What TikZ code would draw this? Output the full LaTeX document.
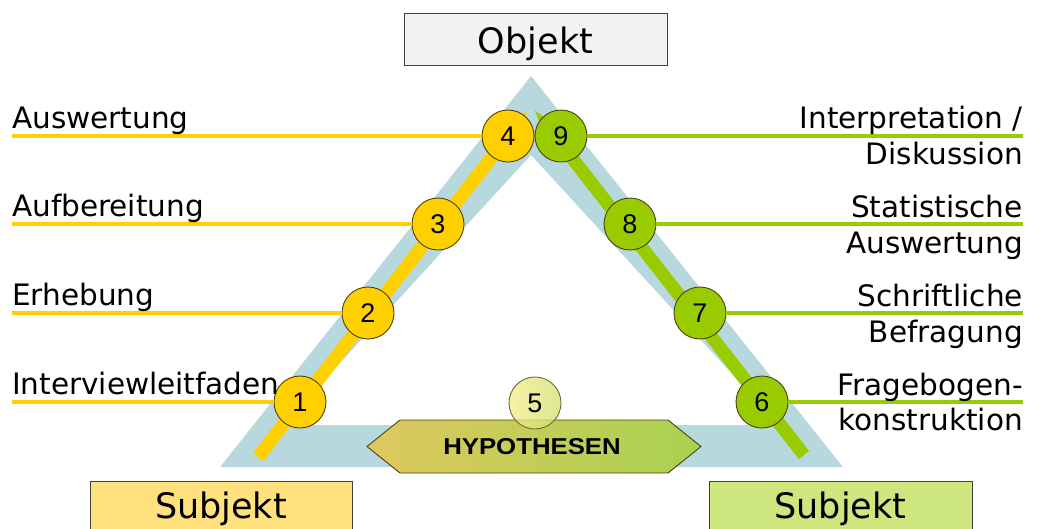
\documentclass[tikz,border=0pt]{standalone}
\usepackage{fontspec}
\setmainfont{DejaVu Sans}
\newfontfamily\numfont{Liberation Sans}
\usetikzlibrary{arrows.meta}
\definecolor{band}{RGB}{183,217,221}
\definecolor{ylw}{RGB}{255,208,0}
\definecolor{grn}{RGB}{153,204,0}
\definecolor{edge}{RGB}{75,65,20}
\definecolor{subjY}{RGB}{255,225,125}
\definecolor{subjG}{RGB}{205,230,125}
\definecolor{objG}{RGB}{242,242,242}
\definecolor{hypL}{RGB}{222,200,95}
\definecolor{hypR}{RGB}{168,210,80}
\definecolor{fiveL}{RGB}{246,234,135}
\definecolor{fiveR}{RGB}{205,225,110}
\begin{document}
\begin{tikzpicture}[x=1pt,y=-1pt,
  lbl/.style={inner sep=0pt, font=\fontsize{29.5}{35}\selectfont},
  big/.style={inner sep=0pt, font=\fontsize{35}{42}\selectfont},
  num/.style={circle, draw=edge, line width=0.9pt, minimum size=52pt, inner sep=0pt, font=\numfont\fontsize{27}{30}\selectfont},
  ycirc/.style={num, fill=ylw},
  gcirc/.style={num, fill=grn},
  yline/.style={draw=ylw, line width=3.5pt},
  gline/.style={draw=grn, line width=3.5pt},
  bigarrow/.style={line width=13pt, -{Triangle[length=60pt,width=24pt]}},
  box/.style={draw=black!75, line width=1pt}
]
\useasboundingbox (0,0) rectangle (1037,528);
\clip (0,0) rectangle (1037,528);
% blue triangle band
\fill[band, even odd rule] (220,467) -- (531,76) -- (843,467) -- cycle
  (283,425) -- (531,155) -- (779,425) -- cycle;
% big arrows
\coordinate (ys) at (258,457);
\coordinate (yt) at (534,103);
\coordinate (gs) at (804,455);
\coordinate (gt) at (529,103);
\draw[bigarrow, draw=ylw] (ys) -- (yt);
\draw[bigarrow, draw=grn] (gs) -- (gt);
% circles
\node[ycirc] (c1) at (300,402) {1};
\node[ycirc] (c2) at (368,313) {2};
\node[ycirc] (c3) at (438,224) {3};
\node[ycirc] (c4) at (508,136) {4};
\node[gcirc] (c6) at (762,402) {6};
\node[gcirc] (c7) at (700,313) {7};
\node[gcirc] (c8) at (630,224) {8};
\node[gcirc] (c9) at (561,136) {9};
% label lines
\coordinate (l1) at (12,402);
\coordinate (l2) at (12,313);
\coordinate (l3) at (12,224);
\coordinate (l4) at (12,136);
\coordinate (r6) at (1023,402);
\coordinate (r7) at (1023,313);
\coordinate (r8) at (1023,224);
\coordinate (r9) at (1023,136);
\draw[yline] (l1) -- (c1.west);
\draw[yline] (l2) -- (c2.west);
\draw[yline] (l3) -- (c3.west);
\draw[yline] (l4) -- (c4.west);
\draw[gline] (c6.east) -- (r6);
\draw[gline] (c7.east) -- (r7);
\draw[gline] (c8.east) -- (r8);
\draw[gline] (c9.east) -- (r9);
% left labels
\node[lbl, anchor=base west] (t1) at (12,394) {Interviewleitfaden};
\node[lbl, anchor=base west] (t2) at (12,305) {Erhebung};
\node[lbl, anchor=base west] (t3) at (12,216) {Aufbereitung};
\node[lbl, anchor=base west] (t4) at (12,128) {Auswertung};
% right labels
\node[lbl, anchor=base east] (t9a) at (1023,128) {Interpretation /};
\node[lbl, anchor=base east] (t9b) at (1023,164) {Diskussion};
\node[lbl, anchor=base east] (t8a) at (1023,217) {Statistische};
\node[lbl, anchor=base east] (t8b) at (1023,253) {Auswertung};
\node[lbl, anchor=base east] (t7a) at (1023,306) {Schriftliche};
\node[lbl, anchor=base east] (t7b) at (1023,342) {Befragung};
\node[lbl, anchor=base east] (t6a) at (1023,395) {Fragebogen-};
\node[lbl, anchor=base east] (t6b) at (1023,430) {konstruktion};
% hypotheses
\shade[left color=hypL, right color=hypR] (367,446.5) -- (400,420) -- (668,420) -- (701,446.5) -- (668,473) -- (400,473) -- cycle;
\draw[draw=edge, line width=0.9pt] (367,446.5) -- (400,420) -- (668,420) -- (701,446.5) -- (668,473) -- (400,473) -- cycle;
\node[inner sep=0pt, font=\numfont\bfseries\fontsize{23}{26}\selectfont] (hyp) at (532,447) {\scalebox{1.12}[1]{HYPOTHESEN}};
\node[num, draw=edge!80, left color=fiveL, right color=fiveR, fill opacity=0.75, text opacity=1] (c5) at (535,403) {5};
% boxes
\draw[box, fill=objG] (404,13) rectangle (667,65);
\node[big, anchor=base] (obj) at (535.5,53) {Objekt};
\draw[box, fill=subjY] (90,481) rectangle (352,545);
\node[big, anchor=base] (s1) at (221,518) {Subjekt};
\draw[box, fill=subjG] (709,481) rectangle (972,545);
\node[big, anchor=base] (s2) at (840.5,518) {Subjekt};
\end{tikzpicture}
\end{document}
